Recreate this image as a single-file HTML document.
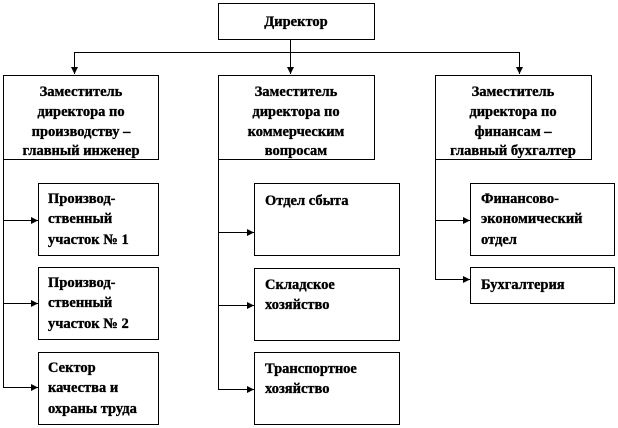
<!DOCTYPE html>
<html><head><meta charset="utf-8"><style>
html,body{margin:0;padding:0;background:#fff;}
svg{display:block;}
text{font-family:"Liberation Serif","DejaVu Serif",serif;font-weight:bold;font-size:14.5px;fill:#000;stroke:#000;stroke-width:0.35;}
</style></head><body>
<svg width="618" height="428" viewBox="0 0 618 428" xmlns="http://www.w3.org/2000/svg">
<defs><marker id="a" markerWidth="8" markerHeight="8" refX="7" refY="4" orient="auto" markerUnits="userSpaceOnUse"><path d="M0,0.5 L7,4 L0,7.5 z" fill="#000"/></marker></defs>
<g fill="none" stroke="#000" stroke-width="1">
<rect x="218.5" y="3.5" width="156" height="36"/>
<rect x="3.5" y="75.5" width="155" height="84"/>
<rect x="218.5" y="75.5" width="156" height="84"/>
<rect x="435.5" y="75.5" width="156" height="84"/>
<rect x="38.5" y="183.5" width="120" height="72"/>
<rect x="38.5" y="267.5" width="120" height="72"/>
<rect x="38.5" y="352.5" width="120" height="72"/>
<rect x="254.5" y="183.5" width="145" height="72"/>
<rect x="254.5" y="268.5" width="145" height="72"/>
<rect x="254.5" y="352.5" width="145" height="72"/>
<rect x="470.5" y="183.5" width="144" height="72"/>
<rect x="470.5" y="267.5" width="144" height="36"/>
<path d="M290.5 39.5V74" marker-end="url(#a)"/>
<path d="M74.5 74V52.5H519.5V74" />
<path d="M74.5 60V74" marker-end="url(#a)"/>
<path d="M519.5 60V74" marker-end="url(#a)"/>
<path d="M3.5 159.5V387.5H38" marker-end="url(#a)"/>
<path d="M3.5 220.5H38" marker-end="url(#a)"/>
<path d="M3.5 303.5H38" marker-end="url(#a)"/>
<path d="M218.5 159.5V389.5H254" marker-end="url(#a)"/>
<path d="M218.5 232.5H254" marker-end="url(#a)"/>
<path d="M218.5 305.5H254" marker-end="url(#a)"/>
<path d="M435.5 159.5V279.5H470" marker-end="url(#a)"/>
<path d="M435.5 220.5H470" marker-end="url(#a)"/>
</g>
<text x="296" y="26" text-anchor="middle">Директор</text>
<g text-anchor="middle">
<text x="81" y="96">Заместитель</text><text x="81" y="116">директора по</text><text x="81" y="136">производству –</text><text x="81" y="155">главный инженер</text>
<text x="296" y="96">Заместитель</text><text x="296" y="116">директора по</text><text x="296" y="136">коммерческим</text><text x="296" y="155">вопросам</text>
<text x="513" y="96">Заместитель</text><text x="513" y="116">директора по</text><text x="513" y="136">финансам –</text><text x="513" y="155">главный бухгалтер</text>
</g>
<text x="48" y="203">Производ-</text><text x="48" y="223">ственный</text><text x="48" y="244">участок № 1</text>
<text x="48" y="287">Производ-</text><text x="48" y="307">ственный</text><text x="48" y="328">участок № 2</text>
<text x="48" y="372">Сектор</text><text x="48" y="392">качества и</text><text x="48" y="413">охраны труда</text>
<text x="265" y="205">Отдел сбыта</text>
<text x="265" y="289">Складское</text><text x="265" y="309">хозяйство</text>
<text x="265" y="373">Транспортное</text><text x="265" y="393">хозяйство</text>
<text x="481" y="203">Финансово-</text><text x="481" y="223">экономический</text><text x="481" y="244">отдел</text>
<text x="481" y="289">Бухгалтерия</text>
</svg>
</body></html>
